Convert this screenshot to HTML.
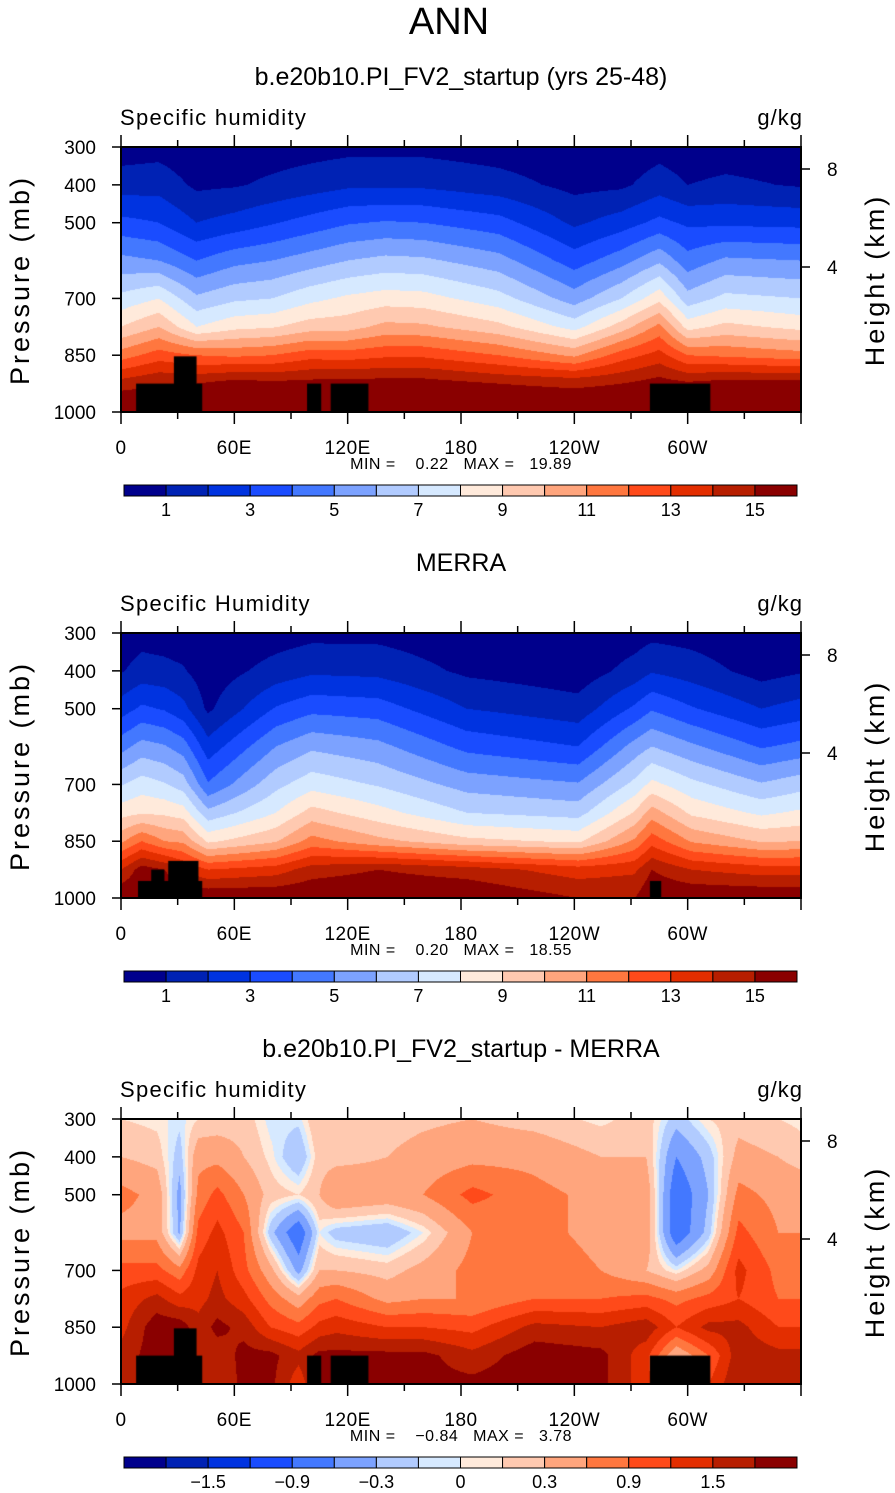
<!DOCTYPE html>
<html><head><meta charset="utf-8">
<style>
html,body{margin:0;padding:0;background:#fff;}
#root{position:relative;width:895px;height:1493px;overflow:hidden;}
canvas{position:absolute;}
svg{position:absolute;left:0;top:0;}
text{font-family:"Liberation Sans Narrow","Liberation Sans",sans-serif;fill:#000;white-space:pre;}
</style></head>
<body>
<div id="root">
<canvas id="c0" width="680" height="265" style="left:121px;top:147px"></canvas>
<canvas id="c1" width="680" height="265" style="left:121px;top:633px"></canvas>
<canvas id="c2" width="680" height="265" style="left:121px;top:1119px"></canvas>
<svg id="ov" width="895" height="1493"></svg>
</div>
<script>
// ---- data ----
const pLevels = [300,400,500,600,700,775,850,925,1000];
const lons1 = [0,20,40,60,80,100,120,140,160,200,240,265,285,300,320,360];
const model = [
[0.5,1.5,3.3,5.3,7.3,9,11.5,14.5,16.5],
[0.6,1.6,3.0,5.0,8.0,10,12.5,15,16],
[0.3,0.8,2.0,4.0,6.2,8,12,15,16],
[0.4,0.9,2.4,4.7,6.8,8.7,11.8,15.5,16],
[0.5,1.2,2.9,5.0,7.0,8.9,12,15.3,16],
[0.6,1.5,3.4,5.5,7.7,9.5,12.6,15.4,16],
[0.7,1.8,3.9,6.0,8.2,9.6,12.5,15.5,16],
[0.7,1.8,4.1,6.3,8.5,10.3,12.8,15.5,16],
[0.7,1.8,4.0,6.2,8.4,10.2,12.8,15.5,16],
[0.5,1.4,3.4,5.4,7.4,9.3,12,15,16],
[0.3,0.7,1.8,3.5,5.5,7.6,10.8,14.8,16],
[0.3,0.8,2.5,4.6,7.0,9.5,12.5,15,16],
[0.6,1.5,3.3,5.8,8.7,11.3,13.4,15.5,16],
[0.4,1.0,2.8,4.4,6.4,8.6,12,15.2,16],
[0.5,1.2,2.8,5.2,7.3,9.3,11.8,15.5,16],
[0.4,0.9,2.7,5.0,7.0,8.7,11.4,15.5,16]];
const lons2 = [0,11,23,33,46,82,101,136,183,242,272,281,302,339,360];
const merra = [
[0.4,0.9,2.5,4.6,6.9,8.6,10.8,14,16],
[0.6,1.4,3.2,5.4,7.5,8.9,12,15.5,16],
[0.5,1.3,2.9,5.1,7.1,8.8,11,15,16],
[0.4,1.1,2.3,4.5,6.5,8.5,10.8,14,16],
[0.2,0.4,0.8,2.4,4.1,6.3,8.8,13,16],
[0.5,1.4,3.1,5.0,6.7,8.0,9.9,13.5,16],
[0.7,1.8,3.7,5.8,7.6,9.4,11.4,14.5,16],
[0.7,1.7,3.5,5.3,6.9,8.4,10.3,15,16],
[0.3,0.8,2.0,3.7,5.6,7.0,9.3,14.5,16],
[0.2,0.4,1.4,3.0,5.1,6.6,8.8,13.5,15],
[0.5,1.4,3.2,5.4,7.3,9.1,11.2,13.8,15],
[0.7,1.9,3.9,6.0,8.3,10.5,12.6,15,16],
[0.6,1.5,3.1,5.2,7.3,8.8,10.9,14,16],
[0.2,0.6,2.0,3.9,6.1,7.8,9.9,13.5,16],
[0.3,0.9,2.4,4.3,6.6,8.2,10,13.5,16]];
const lons3 = [0,19,31,41,51,65,79,94,105,114,141,160,186,219,254,278,294,311,327,348,360];
const diff = [
[0.1,0.3,0.7,0.5,1.0,1.3,1.4,1.6,1.7],
[0.05,0.2,0.5,0.5,1.0,1.6,2.0,2.0,1.6],
[-0.05,-0.2,-0.4,-0.35,0.7,1.3,2.0,2.0,2.0],
[0.1,0.5,0.7,1.0,1.3,1.4,1.6,1.6,1.6],
[0.15,0.5,1.0,1.3,1.5,1.6,1.9,1.6,1.5],
[0.2,0.3,0.6,0.9,1.0,1.3,1.7,1.9,1.9],
[-0.05,0.05,0.2,-0.2,0.4,0.8,1.2,1.9,1.9],
[-0.05,-0.3,0.1,-0.9,-0.4,0.4,1.0,1.6,1.3],
[0.3,0.2,0.3,0.0,0.3,0.8,1.3,1.9,1.9],
[0.3,0.2,0.6,-0.2,0.3,0.9,1.4,1.9,1.9],
[0.2,0.3,0.5,-0.3,0.2,0.5,1.2,1.9,1.9],
[0.25,0.4,0.6,0.0,0.4,0.6,1.2,1.9,1.9],
[0.3,0.5,1.0,0.6,0.7,0.6,1.1,1.6,1.9],
[0.2,0.5,0.7,0.7,0.8,0.9,1.6,2.0,2.0],
[0.05,0.3,0.5,0.5,0.6,0.9,1.5,1.9,1.9],
[0.2,0.3,0.5,0.5,0.3,1.0,1.7,1.3,1.3],
[-0.2,-0.6,-0.9,-0.9,0.0,0.8,1.2,0.3,0.5],
[0.1,-0.2,-0.3,-0.2,0.4,1.0,1.6,0.9,1.2],
[0.2,0.4,0.7,1.0,1.3,1.2,1.6,1.7,1.8],
[0.1,0.3,0.5,0.6,0.8,0.9,1.2,1.6,1.7],
[0.05,0.2,0.5,0.6,0.8,0.9,1.2,1.6,1.7]];
const levelsQ = [1,2,3,4,5,6,7,8,9,10,11,12,13,14,15];
const levelsD = [-1.8,-1.5,-1.2,-0.9,-0.6,-0.3,-0.1,0,0.1,0.3,0.6,0.9,1.2,1.5,1.8];
const cbLabelsQ = ["1","3","5","7","9","11","13","15"];
const cbLabelsD = ["\u22121.5","\u22120.9","\u22120.3","0","0.3","0.9","1.5"];
const cbLabelIdxQ = [1,3,5,7,9,11,13,15];
const cbLabelIdxD = [2,4,6,8,10,12,14];
const colors = ["#00008c","#0022b4","#0033e0","#1a4cff","#4378ff","#7ca2ff","#b1cbff","#d6e9ff","#ffeadb","#ffc9b0","#ffa57d","#ff773f","#ff4a1a","#e32e00","#b71e00","#8a0000"];
// land masks [lon0, lon1, pTop]
const land1 = [[8,43,925],[28,40,853],[98.5,106,925],[111,131,925],[280,312,925]];
const land2 = [[9,43,955],[16,23,925],[25,41,902],[280,286,955]];
const xTicks = [0,60,120,180,240,300];
const xTickLabels = ["0","60E","120E","180","120W","60W"];
const pTicks = [300,400,500,700,850,1000];
const hTicks = [[8,169],[4,267]];
const mins = ["0.22","0.20","\u22120.84"];
const maxs = ["19.89","18.55","3.78"];
const titles = ["b.e20b10.PI_FV2_startup (yrs 25-48)","MERRA","b.e20b10.PI_FV2_startup - MERRA"];
const subtitles = ["Specific humidity","Specific Humidity","Specific humidity"];

// ---- axes ----
const X0=121,W=680,H=265;
const xOf = lon => lon/360*W;
const yOf = p => (p-300)/700*H;
function interp(lons, grid, lon, p){
  let i=0; while(i<lons.length-2 && lon>lons[i+1]) i++;
  let tx=(lon-lons[i])/(lons[i+1]-lons[i]); tx=Math.max(0,Math.min(1,tx));
  let j=0; while(j<pLevels.length-2 && p>pLevels[j+1]) j++;
  let ty=(p-pLevels[j])/(pLevels[j+1]-pLevels[j]); ty=Math.max(0,Math.min(1,ty));
  const a=grid[i][j],b=grid[i+1][j],c=grid[i][j+1],d=grid[i+1][j+1];
  return (a*(1-tx)+b*tx)*(1-ty)+(c*(1-tx)+d*tx)*ty;
}
function hex(h){return [parseInt(h.substr(1,2),16),parseInt(h.substr(3,2),16),parseInt(h.substr(5,2),16)];}
const rgb = colors.map(hex);
function bin(v,lv){let k=0;while(k<lv.length&&v>=lv[k])k++;return k;}
function drawField(id,lons,grid,lv,land){
  const cv=document.getElementById(id),ctx=cv.getContext('2d');
  const img=ctx.createImageData(W,H);
  for(let y=0;y<H;y++){const p=300+(y+0.5)/H*700;
    for(let x=0;x<W;x++){const lon=(x+0.5)/W*360;
      const c=rgb[bin(interp(lons,grid,lon,p),lv)];
      const o=(y*W+x)*4;img.data[o]=c[0];img.data[o+1]=c[1];img.data[o+2]=c[2];img.data[o+3]=255;}}
  ctx.putImageData(img,0,0);
  ctx.fillStyle="#000";
  land.forEach(r=>{ctx.fillRect(xOf(r[0]),yOf(r[2]),xOf(r[1])-xOf(r[0]),H-yOf(r[2]));});
}
drawField('c0',lons1,model,levelsQ,land1);
drawField('c1',lons2,merra,levelsQ,land2);
drawField('c2',lons3,diff,levelsD,land1);

const NS="http://www.w3.org/2000/svg", svg=document.getElementById('ov');
function el(tag,attrs,txt){const e=document.createElementNS(NS,tag);for(const k in attrs)e.setAttribute(k,attrs[k]);if(txt!==undefined)e.textContent=txt;svg.appendChild(e);return e;}

let t=el('text',{x:449,y:34,'font-size':38,'text-anchor':'middle','fill':'#222'},'ANN');



for(let k=0;k<3;k++){
  const oy=k*486, Y0=147+oy;
  t=el('text',{x:461,y:85+oy,'font-size':25,'text-anchor':'middle','font-family':'Liberation Sans, sans-serif'},titles[k]);
  
  
  t=el('text',{x:120,y:125+oy,'font-size':22,'letter-spacing':'1.3'},subtitles[k]);
  
  
  t=el('text',{x:803,y:125+oy,'font-size':22,'text-anchor':'end','letter-spacing':'1'},'g/kg');
  
  
  let r=el('rect',{x:X0,y:Y0,width:W,height:H,fill:'none',stroke:'#000','stroke-width':2});
  
  
  for(let lon=0;lon<=360;lon+=30){
    const major=lon%60===0, len=major?12:7, x=X0+xOf(lon);
    let l=el('line',{x1:x,x2:x,y1:Y0-len,y2:Y0,stroke:'#000','stroke-width':1.5});
    
    
    l=el('line',{x1:x,x2:x,y1:Y0+H,y2:Y0+H+len,stroke:'#000','stroke-width':1.5});
    
    
  }
  xTicks.forEach((lon,i)=>{
    t=el('text',{x:X0+xOf(lon),y:Y0+H+42,'font-size':19,'text-anchor':'middle','letter-spacing':'0.5'},xTickLabels[i]);
    
    
  });
  pTicks.forEach(p=>{
    const y=Y0+yOf(p);
    let l=el('line',{x1:X0-9,x2:X0,y1:y,y2:y,stroke:'#000','stroke-width':1.5});
    
    
    t=el('text',{x:96,y:y+7,'font-size':19,'text-anchor':'end'},String(p));
    
    
  });
  hTicks.forEach(h=>{
    const y=h[1]+oy;
    let l=el('line',{x1:X0+W,x2:X0+W+9,y1:y,y2:y,stroke:'#000','stroke-width':1.5});
    
    
    t=el('text',{x:827,y:y+7,'font-size':19},String(h[0]));
    
    
  });
  t=el('text',{x:0,y:0,'font-size':27,'text-anchor':'middle',transform:`translate(29,${Y0+133}) rotate(-90)`,'letter-spacing':'3'},'Pressure (mb)');
  
  
  t=el('text',{x:0,y:0,'font-size':27,'text-anchor':'middle',transform:`translate(884,${Y0+133}) rotate(-90)`,'letter-spacing':'3'},'Height (km)');
  
  
  t=el('text',{x:461,y:Y0+H+57,'font-size':16,'text-anchor':'middle','letter-spacing':'0.5'},'MIN =    '+mins[k]+'   MAX =   '+maxs[k]);
  
  
  const cbX=124, cbW=673/16, cbY=485+oy;
  for(let i=0;i<16;i++){
    r=el('rect',{x:cbX+i*cbW,y:cbY,width:cbW,height:11,fill:colors[i],stroke:'#000','stroke-width':1});
    
    
  }
  const idx=k<2?cbLabelIdxQ:cbLabelIdxD, labs=k<2?cbLabelsQ:cbLabelsD;
  idx.forEach((b,i)=>{
    t=el('text',{x:cbX+b*cbW,y:cbY+31,'font-size':18,'text-anchor':'middle'},labs[i]);
    
    
  });
}
</script>
</body></html>
